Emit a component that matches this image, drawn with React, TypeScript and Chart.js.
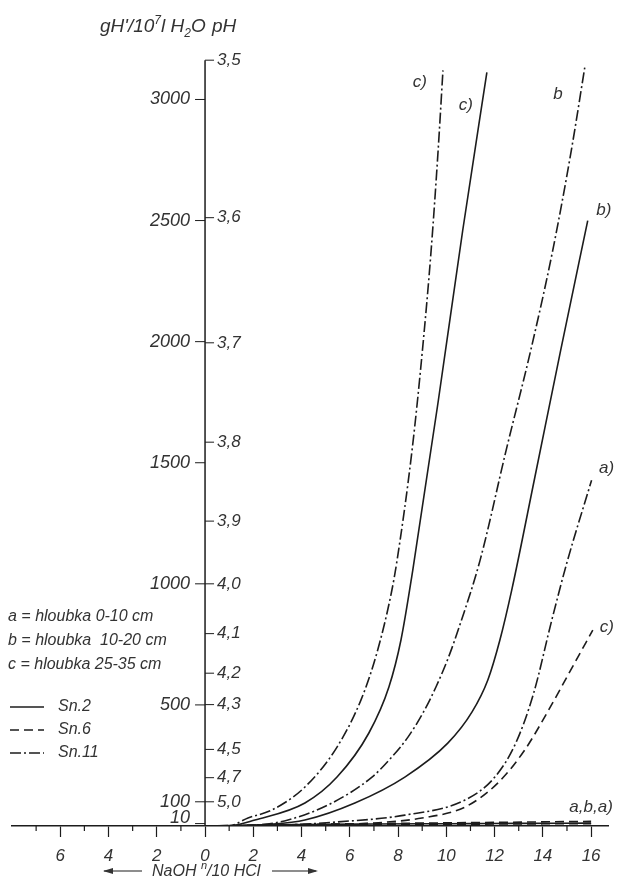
import React, { useEffect, useRef } from 'react';
import { Chart, registerables } from 'chart.js';

Chart.register(...registerables);

// ---- data: x = ml (left of 0: NaOH, right of 0: n/10 HCl), y = gH'/10^7 l H2O ----
const sn2A = [[0, 0], [1.5, 3], [3, 5], [5, 7], [7, 8], [9, 9], [11, 10], [13, 11], [16, 12]];
const sn2B = [[0, 0], [1.5, 1], [2.5, 6], [4.14, 25], [6.21, 95], [8.28, 202], [10.06, 342], [11.06, 470], [11.72, 603], [12.22, 768], [12.71, 974], [13.66, 1436], [14.74, 1965], [15.86, 2500]];
const sn2C = [[0, 0], [1, 1], [2.07, 25], [4.14, 95], [5.47, 202], [6.79, 384], [7.62, 574], [8.12, 768], [8.61, 1057], [9.67, 1758], [10.68, 2460], [11.68, 3112]];
const sn6A = [[0, 0], [2, 2], [4, 4], [6, 5], [8, 6], [10, 7], [12, 8], [14, 9], [16, 10]];
const sn6B = [[0, 0], [2, 3], [4, 6], [6, 9], [8, 11], [10, 13], [12, 15], [14, 17], [16, 19]];
const sn6C = [[0, 0], [3, 2], [5, 6], [6.92, 12], [8.99, 33], [10.77, 78], [12.13, 177], [13.25, 314], [14.24, 479], [15.2, 652], [16.07, 809]];
const sn11A = [[0, 0], [3, 3], [5.51, 17], [8.28, 45], [10.77, 107], [12.01, 202], [12.88, 343], [13.62, 549], [14.37, 850], [14.99, 1085], [16.02, 1428]];
const sn11B = [[0, 0], [2, 3], [3.44, 25], [5.26, 95], [6.92, 202], [7.74, 285], [8.41, 367], [9.05, 470], [9.57, 574], [10.09, 697], [10.53, 821], [11.4, 1098], [12.48, 1552], [13.5, 1965], [14.41, 2377], [15.18, 2790], [15.75, 3140]];
const sn11C = [[0, 0], [1, 1], [1.78, 33], [2.77, 66], [4.14, 161], [5.47, 326], [6.46, 520], [7.12, 714], [7.72, 962], [7.96, 1098], [8.58, 1552], [9.01, 1965], [9.37, 2377], [9.66, 2790], [9.86, 3120]];

const curveNames = ['Sn.2 a', 'Sn.2 b', 'Sn.2 c', 'Sn.6 a', 'Sn.6 b', 'Sn.6 c', 'Sn.11 a', 'Sn.11 b', 'Sn.11 c'];
const curveLabels = ['', 'b)', 'c)', '', 'a,b,a)', 'c)', 'a)', 'b', 'c)'];

const xTickValues = [-6, -4, -2, 0, 2, 4, 6, 8, 10, 12, 14, 16];
const xMinorTickValues = [-7, -5, -3, -1, 1, 3, 5, 7, 9, 11, 13, 15];
const yTickValues = [10, 100, 500, 1000, 1500, 2000, 2500, 3000];
const pHTickLabels = ['3,5', '3,6', '3,7', '3,8', '3,9', '4,0', '4,1', '4,2', '4,3', '4,5', '4,7', '5,0'];

const seriesNames = ['Sn.2', 'Sn.6', 'Sn.11'];
const depthLabels = ['a = hloubka 0-10 cm', 'b = hloubka  10-20 cm', 'c = hloubka 25-35 cm'];

// ---- styling ----
const FAM = '"Liberation Sans", "DejaVu Sans", Arial, sans-serif';
const INK = '#1c1c1c';
const TEXT = '#333333';
const SOLID: number[] = [];
const DASHED = [9, 5];
const DASHDOT = [11, 3, 2, 3];
const seriesDash = [SOLID, DASHED, DASHDOT];
const labelOffsets = [[0, 0], [16, -10], [-21, 33], [0, 0], [0, -14], [14, -3], [15, -12], [-27, 29], [-23, 12]];

const curves = [sn2A, sn2B, sn2C, sn6A, sn6B, sn6C, sn11A, sn11B, sn11C];

function drawSegments(ctx: CanvasRenderingContext2D, x: number, y: number, segs: [string, number, number][], size: number) {
  let cx = x;
  for (const [txt, scale, dy] of segs) {
    ctx.font = `italic ${Math.round(size * scale)}px ${FAM}`;
    ctx.fillText(txt, cx, y + dy);
    cx += ctx.measureText(txt).width;
  }
}

const decorPlugin = {
  id: 'decor',
  beforeDraw(chart: any) {
    const ctx = chart.ctx as CanvasRenderingContext2D;
    ctx.save();
    ctx.fillStyle = '#ffffff';
    ctx.fillRect(0, 0, chart.width, chart.height);
    ctx.restore();
  },
  afterDraw(chart: any) {
    const ctx = chart.ctx as CanvasRenderingContext2D;
    const xs = chart.scales.x;
    const ys = chart.scales.y;
    const area = chart.chartArea;
    const x0 = xs.getPixelForValue(0);
    ctx.save();

    // vertical axis line
    ctx.strokeStyle = INK;
    ctx.lineWidth = 1.5;
    ctx.beginPath();
    ctx.moveTo(x0, area.bottom);
    ctx.lineTo(x0, ys.getPixelForValue(1000 * Math.pow(10, 0.5)));
    ctx.stroke();

    // left value ticks
    ctx.lineWidth = 1;
    ctx.fillStyle = TEXT;
    ctx.font = `italic 18px ${FAM}`;
    ctx.textAlign = 'right';
    ctx.textBaseline = 'middle';
    for (const v of yTickValues) {
      const py = ys.getPixelForValue(v);
      ctx.beginPath();
      ctx.moveTo(x0 - 10, py);
      ctx.lineTo(x0, py);
      ctx.stroke();
      ctx.fillText(String(v), x0 - 15, Math.min(py, area.bottom - 8));
    }

    // right pH ticks
    ctx.font = `italic 17px ${FAM}`;
    ctx.textAlign = 'left';
    for (const lab of pHTickLabels) {
      const pH = parseFloat(lab.replace(',', '.'));
      const v = 1000 * Math.pow(10, 4 - pH);
      const py = ys.getPixelForValue(v);
      ctx.beginPath();
      ctx.moveTo(x0, py);
      ctx.lineTo(x0 + 9, py);
      ctx.stroke();
      ctx.fillText(lab, x0 + 12, py);
    }

    // minor x ticks
    ctx.lineWidth = 1.2;
    for (const v of xMinorTickValues) {
      const px = xs.getPixelForValue(v);
      ctx.beginPath();
      ctx.moveTo(px, area.bottom);
      ctx.lineTo(px, area.bottom + 5);
      ctx.stroke();
    }

    // header
    ctx.textAlign = 'left';
    ctx.textBaseline = 'alphabetic';
    drawSegments(ctx, 100, 32, [["gH'/10", 1, 0], ['7', 0.65, -8], ['l H', 1, 0], ['2', 0.65, 5], ['O', 1, 0]], 19);
    drawSegments(ctx, 212, 32, [['pH', 1, 0]], 19);

    // bottom axis title with arrows
    const ty = 876;
    ctx.lineWidth = 1.1;
    ctx.beginPath();
    ctx.moveTo(142, ty - 5);
    ctx.lineTo(104, ty - 5);
    ctx.stroke();
    ctx.beginPath();
    ctx.moveTo(103, ty - 5);
    ctx.lineTo(113, ty - 8);
    ctx.lineTo(113, ty - 2);
    ctx.closePath();
    ctx.fill();
    ctx.beginPath();
    ctx.moveTo(272, ty - 5);
    ctx.lineTo(316, ty - 5);
    ctx.stroke();
    ctx.beginPath();
    ctx.moveTo(318, ty - 5);
    ctx.lineTo(308, ty - 8);
    ctx.lineTo(308, ty - 2);
    ctx.closePath();
    ctx.fill();
    drawSegments(ctx, 152, ty, [['NaOH ', 1, 0], ['n', 0.7, -7], ['/10 HCl', 1, 0]], 16);

    // legend
    ctx.font = `italic 16px ${FAM}`;
    ctx.textBaseline = 'middle';
    depthLabels.forEach((t, i) => {
      ctx.fillText(t, 8, 617 + i * 24);
    });
    seriesNames.forEach((t, i) => {
      const ly = 707 + i * 23;
      ctx.setLineDash(seriesDash[i]);
      ctx.lineWidth = 1.4;
      ctx.beginPath();
      ctx.moveTo(10, ly);
      ctx.lineTo(44, ly);
      ctx.stroke();
      ctx.setLineDash([]);
      ctx.font = `italic 16px ${FAM}`;
      ctx.fillText(t, 58, ly);
    });

    // curve labels anchored at each curve's last point
    ctx.font = `italic 17px ${FAM}`;
    ctx.textAlign = 'center';
    curves.forEach((c, i) => {
      const lab = curveLabels[i];
      if (!lab) return;
      const last = c[c.length - 1];
      const px = xs.getPixelForValue(last[0]) + labelOffsets[i][0];
      const py = ys.getPixelForValue(last[1]) + labelOffsets[i][1];
      ctx.fillText(lab, px, py);
    });

    ctx.restore();
  },
};

export default function App() {
  const ref = useRef<HTMLCanvasElement>(null);
  useEffect(() => {
    const datasets = curves.map((c, i) => ({
      label: curveNames[i],
      data: c.map(([x, y]) => ({ x, y })),
      borderColor: INK,
      borderWidth: 1.6,
      borderDash: seriesDash[Math.floor(i / 3)],
      pointRadius: 0,
      fill: false,
      cubicInterpolationMode: 'monotone' as const,
    }));
    const chart = new Chart(ref.current as HTMLCanvasElement, {
      type: 'line',
      data: { datasets },
      options: {
        animation: false,
        responsive: false,
        maintainAspectRatio: false,
        layout: { padding: { left: 12, right: 11, top: 60, bottom: 16 } },
        plugins: { legend: { display: false }, tooltip: { enabled: false } },
        scales: {
          x: {
            type: 'linear',
            min: -8,
            max: 16.7,
            afterBuildTicks: (axis: any) => {
              axis.ticks = xTickValues.map((v) => ({ value: v }));
            },
            afterFit: (axis: any) => {
              axis.height = 40;
            },
            ticks: {
              autoSkip: false,
              maxRotation: 0,
              padding: 9,
              color: TEXT,
              font: { family: FAM, size: 17, style: 'italic' },
              callback: (v: any) => String(Math.abs(Number(v))),
            },
            grid: { drawOnChartArea: false, drawTicks: true, tickLength: 11, tickColor: INK, tickWidth: 1.2, color: INK },
            border: { display: true, color: INK, width: 1.5 },
          },
          y: {
            type: 'linear',
            min: 0,
            max: 3163,
            display: false,
          },
        },
      },
      plugins: [decorPlugin],
    });
    return () => chart.destroy();
  }, []);
  return (
    <div style={{ position: 'absolute', left: 0, top: 0, width: 619, height: 882, background: '#fff' }}>
      <canvas ref={ref} width={619} height={882} style={{ display: 'block', width: 619, height: 882 }} />
    </div>
  );
}
